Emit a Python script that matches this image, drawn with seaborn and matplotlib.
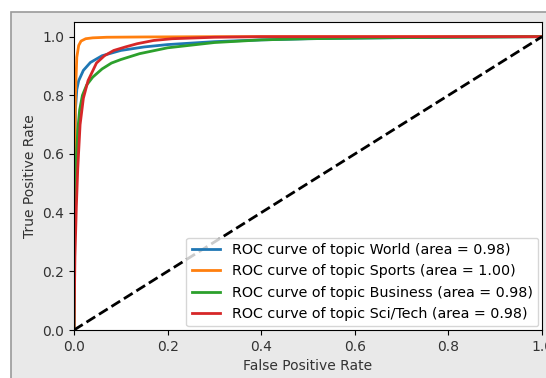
import matplotlib
matplotlib.use('Agg')
import matplotlib.pyplot as plt
import seaborn as sns
import pandas as pd
from matplotlib.patches import Rectangle

topics = ['World', 'Sports', 'Business', 'Sci/Tech']
areas = [0.98, 1.00, 0.98, 0.98]

world_fpr = [0, 0.001, 0.003, 0.006, 0.01, 0.02, 0.035, 0.06, 0.1, 0.15, 0.2, 0.3, 0.4, 0.5, 0.6, 0.8, 1.0]
world_tpr = [0, 0.45, 0.75, 0.82, 0.85, 0.885, 0.912, 0.935, 0.953, 0.965, 0.973, 0.983, 0.989, 0.993, 0.995, 0.998, 1.0]

sports_fpr = [0, 0.001, 0.003, 0.006, 0.01, 0.015, 0.025, 0.04, 0.07, 0.15, 0.3, 1.0]
sports_tpr = [0, 0.5, 0.8, 0.93, 0.97, 0.985, 0.993, 0.996, 0.998, 0.999, 1.0, 1.0]

business_fpr = [0, 0.001, 0.004, 0.008, 0.012, 0.018, 0.027, 0.04, 0.06, 0.08, 0.1, 0.14, 0.2, 0.3, 0.4, 0.5, 0.7, 1.0]
business_tpr = [0, 0.3, 0.55, 0.68, 0.75, 0.8, 0.835, 0.862, 0.89, 0.91, 0.922, 0.942, 0.962, 0.98, 0.989, 0.993, 0.997, 1.0]

scitech_fpr = [0, 0.002, 0.005, 0.008, 0.013, 0.02, 0.03, 0.048, 0.065, 0.085, 0.11, 0.135, 0.17, 0.21, 0.3, 0.4, 1.0]
scitech_tpr = [0, 0.25, 0.42, 0.55, 0.7, 0.79, 0.85, 0.91, 0.935, 0.953, 0.965, 0.976, 0.987, 0.993, 0.998, 1.0, 1.0]

curves = [(world_fpr, world_tpr), (sports_fpr, sports_tpr),
          (business_fpr, business_tpr), (scitech_fpr, scitech_tpr)]
colors = sns.color_palette('tab10', 4)

fig = plt.figure(figsize=(5.46, 3.78), dpi=100)
fig.patch.set_facecolor('white')
# screenshot-style gray panel behind the plot
fig.patches.append(Rectangle((11 / 546, -0.1), 1.2, 1 - 12 / 378 + 0.1,
                             transform=fig.transFigure, facecolor='#e9e9e9',
                             edgecolor='#9a9a9a', linewidth=1.2, zorder=-1))
ax = fig.add_axes([74 / 546, 1 - 330 / 378, (542 - 74) / 546, (330 - 22) / 378])

for (fpr, tpr), topic, area, c in zip(curves, topics, areas, colors):
    df = pd.DataFrame({'fpr': fpr, 'tpr': tpr})
    sns.lineplot(data=df, x='fpr', y='tpr', ax=ax, color=c, lw=2,
                 sort=False, estimator=None,
                 label='ROC curve of topic {0} (area = {1:0.2f})'.format(topic, area))

ax.plot([0, 1], [0, 1], 'k--', lw=2)
ax.set_xlim(0.0, 1.0)
ax.set_ylim(0.0, 1.05)
ax.set_xlabel('False Positive Rate', color='#333333')
ax.set_ylabel('True Positive Rate', color='#333333')
ax.tick_params(labelcolor='#333333')
ax.legend(loc='lower right', fontsize=10.3, borderaxespad=0.25)

fig.savefig('out.png', dpi=100, facecolor=fig.get_facecolor())
